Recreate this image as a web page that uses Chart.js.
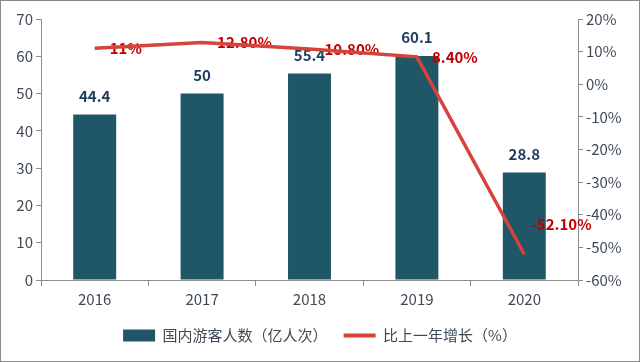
<!DOCTYPE html>
<html>
<head>
<meta charset="utf-8">
<script src="https://cdn.jsdelivr.net/npm/chart.js@4.4.1/dist/chart.umd.min.js"></script>
<style>
  html, body { margin: 0; padding: 0; background: #fff; }
  #wrap { width: 640px; height: 362px; box-sizing: border-box; border: 1px solid #8a8a8a; }
  canvas { display: block; }
</style>
</head>
<body>
<div id="wrap"><canvas id="chart" width="638" height="360"></canvas></div>
<script>
// 数据
const years = ['2016', '2017', '2018', '2019', '2020'];
const visitors = [44.4, 50, 55.4, 60.1, 28.8];
const growth = [11, 12.8, 10.8, 8.4, -52.1];
const growthLabels = ['11%', '12.80%', '10.80%', '8.40%', '-52.10%'];

const FONT = '"Noto Sans CJK SC", "Noto Sans", sans-serif';
const tickColor = '#3f4a57';
const axisColor = '#8c8c8c';

// 数据标签：柱子上方 + 折线点右侧（画在折线下面）
const labelPlugin = {
  id: 'labels',
  beforeDatasetDraw(chart, args) {
    if (args.index !== 1) return;
    const ctx = chart.ctx;
    ctx.save();
    ctx.font = 'bold 15px ' + FONT;

    ctx.fillStyle = '#1f3b5f';
    ctx.textAlign = 'center';
    ctx.textBaseline = 'bottom';
    chart.getDatasetMeta(0).data.forEach((bar, i) => {
      ctx.fillText(String(visitors[i]), bar.x, bar.y - 11);
    });

    ctx.fillStyle = '#c00000';
    ctx.textAlign = 'left';
    ctx.textBaseline = 'middle';
    chart.getDatasetMeta(1).data.forEach((pt, i) => {
      const neg = growth[i] < 0;
      ctx.fillText(growthLabels[i], pt.x + (neg ? 7 : 15), pt.y + (neg ? -30 : 0));
    });
    ctx.restore();
  }
};

new Chart(document.getElementById('chart'), {
  data: {
    labels: years,
    datasets: [
      {
        type: 'bar',
        label: '国内游客人数（亿人次）',
        data: visitors,
        backgroundColor: '#1f5766',
        categoryPercentage: 1,
        barPercentage: 0.4,
        yAxisID: 'y',
        order: 1
      },
      {
        type: 'line',
        label: '比上一年增长（%）',
        data: growth,
        borderColor: '#d6433d',
        backgroundColor: '#d6433d',
        borderWidth: 3.5,
        pointRadius: 0,
        tension: 0,
        yAxisID: 'y1',
        order: 0
      }
    ]
  },
  options: {
    responsive: false,
    animation: false,
    layout: { padding: { top: 18, left: 0, right: 0, bottom: 8 } },
    plugins: {
      tooltip: { enabled: false },
      legend: {
        position: 'bottom',
        labels: {
          font: { family: FONT, size: 15 },
          color: tickColor,
          usePointStyle: true,
          boxHeight: 12,
          pointStyleWidth: 32,
          padding: 16,
          generateLabels(chart) {
            return chart.data.datasets.map((ds, i) => ({
              text: ds.label,
              fillStyle: ds.backgroundColor,
              strokeStyle: ds.type === 'line' ? ds.borderColor : ds.backgroundColor,
              lineWidth: ds.type === 'line' ? 4 : 0,
              pointStyle: ds.type === 'line' ? 'line' : 'rect',
              fontColor: tickColor,
              datasetIndex: i
            }));
          }
        }
      }
    },
    scales: {
      x: {
        offset: true,
        grid: { display: true, offset: true, drawOnChartArea: false, tickLength: 6, color: axisColor },
        border: { color: axisColor },
        ticks: { font: { family: FONT, size: 15 }, color: tickColor, padding: 4 }
      },
      y: {
        position: 'left',
        min: 0,
        max: 70,
        ticks: { stepSize: 10, font: { family: FONT, size: 15 }, color: tickColor, padding: 3 },
        grid: { drawOnChartArea: false, tickLength: 5, color: axisColor },
        border: { color: axisColor },
        afterFit(scale) { scale.width = 40; }
      },
      y1: {
        position: 'right',
        min: -60,
        max: 20,
        ticks: {
          stepSize: 10,
          font: { family: FONT, size: 15 },
          color: tickColor,
          padding: 3,
          callback: v => v + '%'
        },
        grid: { drawOnChartArea: false, tickLength: 5, color: axisColor },
        border: { color: axisColor },
        afterFit(scale) { scale.width = 61; }
      }
    }
  },
  plugins: [labelPlugin]
});
</script>
</body>
</html>
